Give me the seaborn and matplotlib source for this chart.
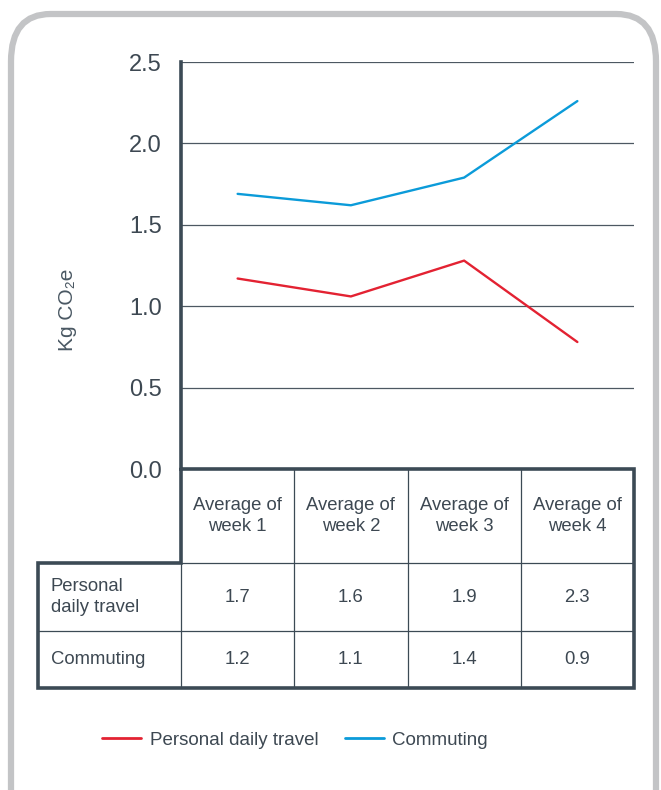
import pandas as pd
import matplotlib.pyplot as plt
import seaborn as sns
from matplotlib.patches import FancyBboxPatch
from matplotlib.lines import Line2D

# Data
weeks = ["Average of\nweek 1", "Average of\nweek 2", "Average of\nweek 3", "Average of\nweek 4"]
personal_line = [1.17, 1.06, 1.28, 0.78]
commuting_line = [1.69, 1.62, 1.79, 2.26]
row_labels = ["Personal\ndaily travel", "Commuting"]
table_personal = ["1.7", "1.6", "1.9", "2.3"]
table_commuting = ["1.2", "1.1", "1.4", "0.9"]
y_ticks = [0.0, 0.5, 1.0, 1.5, 2.0, 2.5]

RED = "#e32232"
BLUE = "#0b9bd9"
DARK = "#3c4a55"
TEXT = "#3d4852"

sns.set_theme(style="white")
plt.rcParams["font.family"] = ["Liberation Sans Narrow", "Liberation Sans", "DejaVu Sans"]

W, H = 661, 790
fig = plt.figure(figsize=(W / 100, H / 100), dpi=100)


def fig_box(x0, y0, x1, y1):
    # pixel box (top-left origin) -> figure fraction rect
    return [x0 / W, 1 - y1 / H, (x1 - x0) / W, (y1 - y0) / H]


# Rounded frame (bottom runs off the figure)
frame = FancyBboxPatch((11 / W, -0.2), 645 / W, 1 - 14 / H + 0.2,
                       boxstyle="round,pad=0,rounding_size=0.06",
                       transform=fig.transFigure, facecolor="none",
                       edgecolor="#c3c4c6", linewidth=4.5, zorder=-1)
fig.patches.append(frame)

# Line chart
ax = fig.add_axes(fig_box(181, 62, 634, 469))
df = pd.DataFrame({
    "week": list(range(4)) * 2,
    "value": personal_line + commuting_line,
    "series": ["Personal daily travel"] * 4 + ["Commuting"] * 4,
})
sns.lineplot(data=df, x="week", y="value", hue="series",
             palette={"Personal daily travel": RED, "Commuting": BLUE},
             linewidth=1.7, legend=False, ax=ax, zorder=3)
ax.set_xlim(-0.5, 3.5)
ax.set_ylim(0, 2.5)
ax.set_yticks(y_ticks)
ax.set_yticklabels([f"{v:.1f}" for v in y_ticks], fontsize=17, color=TEXT)
ax.set_xticks([])
ax.set_xlabel("")
ax.set_ylabel("Kg CO₂e", fontsize=15, color="#4a5863")
ax.yaxis.set_label_coords((77 - 181) / (634 - 181), (469 - 310) / (469 - 62))
ax.tick_params(axis="y", length=0, pad=14)
ax.patch.set_alpha(0)
for v in y_ticks[1:]:
    ax.axhline(v, color="#4d5862", linewidth=0.9, zorder=1)
for s in ["top", "right", "bottom"]:
    ax.spines[s].set_visible(False)
ax.spines["left"].set_color(DARK)
ax.spines["left"].set_linewidth(2.6)

# Table drawn in pixel units
tax = fig.add_axes(fig_box(30, 465, 640, 695))
tax.set_xlim(30, 640)
tax.set_ylim(695, 465)
tax.axis("off")
tax.patch.set_alpha(0)

col_edges = [181 + i * (634 - 181) / 4 for i in range(5)]
row_edges = [469, 563, 631, 688]
lw_thin = 0.9
lw_thick = 2.6

# thin inner lines
for x in col_edges[1:-1]:
    tax.plot([x, x], [row_edges[0], row_edges[-1]], color=DARK, lw=lw_thin)
tax.plot([181, 181], [row_edges[1], row_edges[-1]], color=DARK, lw=lw_thin)
tax.plot([38, 634], [row_edges[2], row_edges[2]], color=DARK, lw=lw_thin)
tax.plot([181, 634], [row_edges[1], row_edges[1]], color=DARK, lw=lw_thin)

# thick outline
outline_x = [181, 634, 634, 38, 38, 181, 181]
outline_y = [469, 469, 688, 688, 563, 563, 469]
tax.plot(outline_x, outline_y, color=DARK, lw=lw_thick, solid_joinstyle="miter")

centers = [(col_edges[i] + col_edges[i + 1]) / 2 for i in range(4)]
for cx, lab in zip(centers, weeks):
    tax.text(cx, (row_edges[0] + row_edges[1]) / 2, lab, ha="center", va="center",
             fontsize=13.3, color=TEXT, linespacing=1.25)
for r, (lab, vals) in enumerate(zip(row_labels, [table_personal, table_commuting])):
    cy = (row_edges[r + 1] + row_edges[r + 2]) / 2
    tax.text(51, cy, lab, ha="left", va="center", fontsize=13.3, color=TEXT, linespacing=1.25)
    for cx, v in zip(centers, vals):
        tax.text(cx, cy, v, ha="center", va="center", fontsize=13.3, color=TEXT)

# Legend
handles = [Line2D([], [], color=RED, lw=2), Line2D([], [], color=BLUE, lw=2)]
fig.legend(handles, ["Personal daily travel", "Commuting"], loc="center",
           bbox_to_anchor=(295 / W, 1 - 740 / H), ncol=2, frameon=False,
           fontsize=13.5, labelcolor=TEXT, handlelength=2.1, columnspacing=1.4,
           handletextpad=0.45)

fig.savefig("out.png", dpi=100)
